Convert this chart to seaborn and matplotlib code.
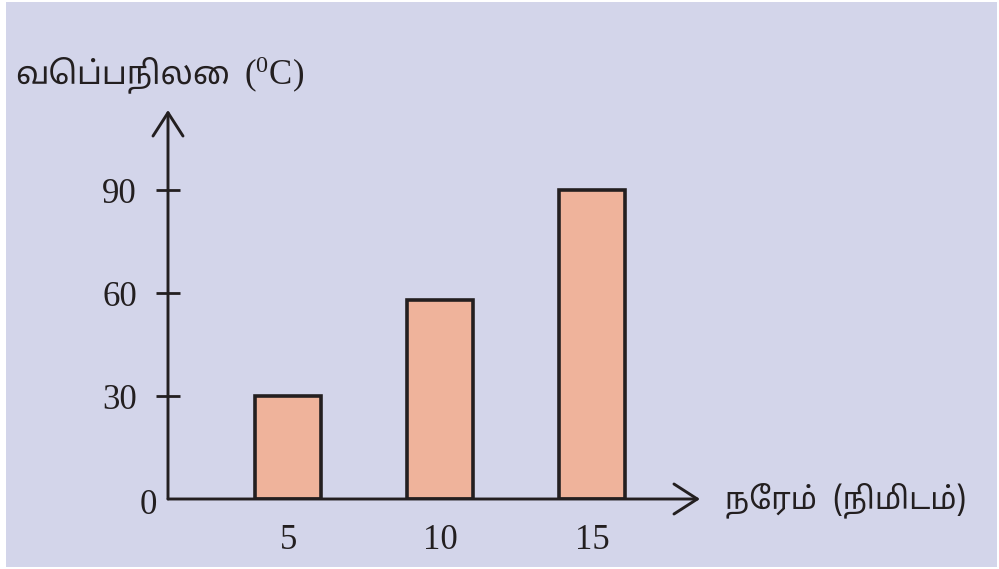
import matplotlib
matplotlib.use("Agg")
import matplotlib.pyplot as plt
import seaborn as sns
import pandas as pd
from matplotlib.patches import Rectangle

# Data
times = ["5", "10", "15"]
temps = [30, 58, 90]
y_ticks = [0, 30, 60, 90]
y_label = "வெப்பநிலை"
y_unit = r"($^0$C)"
x_label = "நேரம்  (நிமிடம்)"

sns.set_theme(style="white")
plt.rcParams["font.family"] = ["Liberation Serif", "DejaVu Serif", "DejaVu Sans"]
plt.rcParams["mathtext.fontset"] = "custom"
plt.rcParams["mathtext.rm"] = "Liberation Serif"
plt.rcParams["mathtext.it"] = "Liberation Serif"
tamil_fam = ["Noto Sans Tamil", "Noto Serif Tamil", "Lohit Tamil", "Latha", "FreeSerif", "DejaVu Sans"]

BG = "#D3D5EA"
BAR = "#EFB39B"
INK = "#231F20"
FS = 25

W, H = 999, 569
fig = plt.figure(figsize=(W / 100, H / 100), dpi=100, facecolor="white")
fig.patches.append(Rectangle((6 / W, 2 / H), (997 - 6) / W, (567 - 2) / H,
                             transform=fig.transFigure, facecolor=BG, edgecolor="none", zorder=-10))

x0, x1 = 168, 700
y0, y1 = 499, 110
ax = fig.add_axes([x0 / W, (H - y0) / H, (x1 - x0) / W, (y0 - y1) / H])
ax.patch.set_alpha(0)

df = pd.DataFrame({"time": times, "temp": temps})
sns.barplot(data=df, x="time", y="temp", ax=ax, color=BAR, width=0.43,
            edgecolor=INK, linewidth=2.6, saturation=1, zorder=3)
for p in ax.patches:
    p.set_facecolor(BAR)

ax.set_xlim(-0.79, 2.71)
ax.set_ylim(0, 113.4)
for s in ax.spines.values():
    s.set_visible(False)

# axis arrows
arrow = dict(arrowstyle="->,head_length=1.4,head_width=0.9", color=INK, lw=2.1, shrinkA=0, shrinkB=0)
ax.annotate("", xy=(0, 1), xycoords="axes fraction", xytext=(0, 0), textcoords="axes fraction",
            arrowprops=arrow, zorder=5)
ax.annotate("", xy=(1, 0), xycoords="axes fraction", xytext=(0, 0), textcoords="axes fraction",
            arrowprops=arrow, zorder=5)

ax.set_yticks(y_ticks[1:])
ax.set_yticklabels([str(v) for v in y_ticks[1:]])
ax.tick_params(axis="y", direction="inout", length=17, width=2.0, color=INK, pad=14,
               labelsize=FS, labelcolor=INK, left=True)
ax.tick_params(axis="x", length=0, pad=18, labelsize=FS, labelcolor=INK)
ax.set_xlabel("")
ax.set_ylabel("")
# the zero label sits just left of the origin, slightly lower
ax.annotate(str(y_ticks[0]), xy=(0, y_ticks[0]), xycoords=("axes fraction", "data"),
            xytext=(-8, 7), textcoords="offset points", ha="right", va="top",
            fontsize=FS, color=INK)

fig.text(15 / W, (H - 75) / H, y_label, fontsize=23, family=tamil_fam, color=INK, va="center", ha="left")
fig.text(244 / W, (H - 75) / H, y_unit, fontsize=FS, color=INK, va="center", ha="left")
fig.text(725 / W, (H - 500) / H, x_label, fontsize=22, family=tamil_fam, color=INK, va="center", ha="left")

fig.savefig("out.png", dpi=100, facecolor="white")
